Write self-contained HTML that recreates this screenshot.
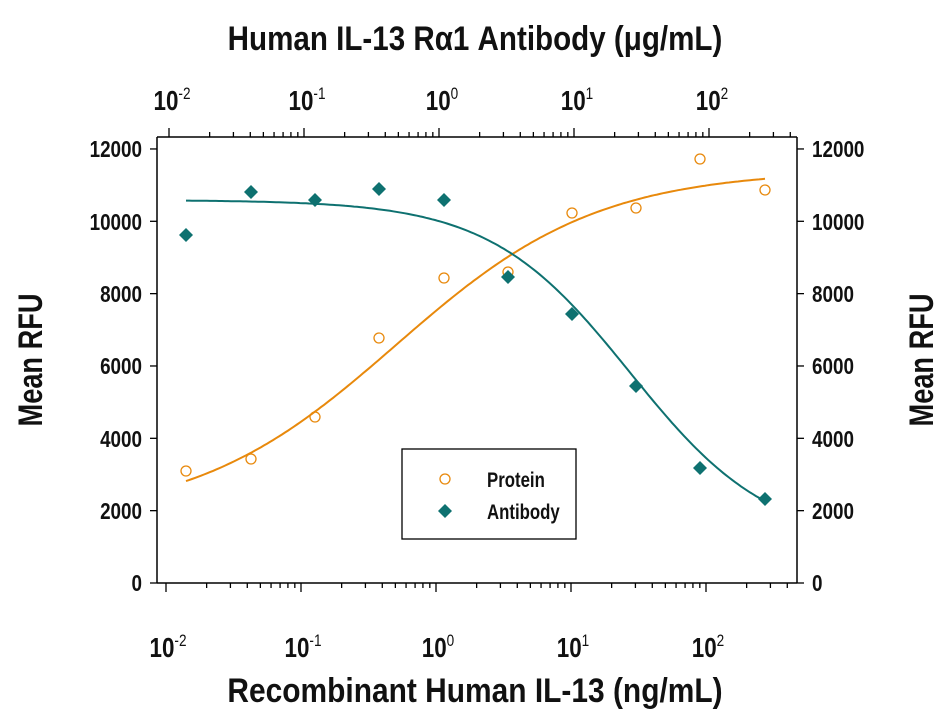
<!DOCTYPE html>
<html><head><meta charset="utf-8"><style>
html,body{margin:0;padding:0;background:#fff}
svg text{font-family:"Liberation Sans Narrow","Liberation Sans",sans-serif;font-weight:bold;fill:#111}
</style></head><body>
<svg id="s" width="951" height="717" viewBox="0 0 951 717" xmlns="http://www.w3.org/2000/svg">
<g stroke="#000" stroke-width="1.5" fill="none">
<line x1="157" y1="137" x2="797" y2="137"/>
<line x1="157" y1="583" x2="797" y2="583"/>
<line x1="157" y1="137" x2="157" y2="583"/>
<line x1="797" y1="137" x2="797" y2="583"/>
</g>
<g id="ticks" stroke="#000" stroke-width="1.3"></g>
<g font-size="23" text-anchor="end">
<text transform="translate(142 591) scale(0.82 1)">0</text>
<text transform="translate(142 519) scale(0.82 1)">2000</text>
<text transform="translate(142 447) scale(0.82 1)">4000</text>
<text transform="translate(142 374) scale(0.82 1)">6000</text>
<text transform="translate(142 302) scale(0.82 1)">8000</text>
<text transform="translate(142 230) scale(0.82 1)">10000</text>
<text transform="translate(142 157) scale(0.82 1)">12000</text>
</g>
<g font-size="23" text-anchor="start">
<text transform="translate(812 591) scale(0.82 1)">0</text>
<text transform="translate(812 519) scale(0.82 1)">2000</text>
<text transform="translate(812 447) scale(0.82 1)">4000</text>
<text transform="translate(812 374) scale(0.82 1)">6000</text>
<text transform="translate(812 302) scale(0.82 1)">8000</text>
<text transform="translate(812 230) scale(0.82 1)">10000</text>
<text transform="translate(812 157) scale(0.82 1)">12000</text>
</g>
<g id="dec"></g>
<text font-size="34" text-anchor="middle" transform="translate(475 50) scale(0.87 1)">Human IL-13 Rα1 Antibody (μg/mL)</text>
<text font-size="34" text-anchor="middle" transform="translate(475 702) scale(0.88 1)">Recombinant Human IL-13 (ng/mL)</text>
<text font-size="34" text-anchor="middle" transform="translate(42 360) rotate(-90) scale(0.8 1)">Mean RFU</text>
<text font-size="34" text-anchor="middle" transform="translate(933 360) rotate(-90) scale(0.8 1)">Mean RFU</text>
<path id="po" fill="none" stroke="#e8890c" stroke-width="2"/>
<path id="pt" fill="none" stroke="#0e7170" stroke-width="2"/>
<g id="pts"></g>
<rect x="402" y="449" width="174" height="90" fill="#fff" stroke="#000" stroke-width="1.3"/>
<circle cx="445" cy="479" r="5" fill="none" stroke="#e8890c" stroke-width="1.3"/>
<path d="M445 504 L452 511 L445 518 L438 511 Z" fill="#0e7170"/>
<text font-size="21" transform="translate(487 487) scale(0.8 1)">Protein</text>
<text font-size="21" transform="translate(487 519) scale(0.8 1)">Antibody</text>
</svg>
<script>
var NS="http://www.w3.org/2000/svg";
function el(t,a,p){var e=document.createElementNS(NS,t);for(var k in a)e.setAttribute(k,a[k]);p.appendChild(e);return e;}
var T=document.getElementById("ticks"),D=document.getElementById("dec");
function X(l){return 436+135*l;}
for(var d=-3;d<=2;d++){for(var m=1;m<10;m++){var x=X(d+Math.log10(m));if(x<160||x>795)continue;var L=m==1?9:5;
el("line",{x1:x,y1:583,x2:x,y2:583+L},T);var xt=x+3;el("line",{x1:xt,y1:137,x2:xt,y2:137-L},T);}}
for(var v=0;v<=12000;v+=2000){var y=583-v*0.03617;el("line",{x1:150,y1:y,x2:157,y2:y},T);el("line",{x1:797,y1:y,x2:804,y2:y},T);}
var sup=["-2","-1","0","1","2"];
for(var i=0;i<5;i++){var x=X(i-2);
[[x-2,657],[x+2,110]].forEach(function(p){var t=el("text",{"font-size":"28","text-anchor":"middle",transform:"translate("+(p[0]+4)+" "+p[1]+") scale(0.8 1)"},D);
t.innerHTML='10<tspan dy="-11" font-size="17" font-weight="normal">'+sup[i]+'</tspan>';});}
var po="",pt="";
for(var x=186;x<=765;x+=3){var yo=170+350/(1+Math.exp((x-396)/101));var yt=200+345/(1+Math.exp(-(x-630)/70));
po+=(x==186?"M":"L")+x+" "+yo.toFixed(1)+" ";pt+=(x==186?"M":"L")+x+" "+yt.toFixed(1)+" ";}
document.getElementById("po").setAttribute("d",po);document.getElementById("pt").setAttribute("d",pt);
var P=document.getElementById("pts");
[[186,471],[251,459],[315,417],[379,338],[444,278],[508,272],[572,213],[636,208],[700,159],[765,190]].forEach(function(p){el("circle",{cx:p[0],cy:p[1],r:5,fill:"none",stroke:"#e8890c","stroke-width":1.3},P);});
[[186,235],[251,192],[315,200],[379,189],[444,200],[508,277],[572,314],[636,386],[700,468],[765,499]].forEach(function(p){var x=p[0],y=p[1];el("path",{d:"M"+x+" "+(y-7)+"L"+(x+7)+" "+y+"L"+x+" "+(y+7)+"L"+(x-7)+" "+y+"Z",fill:"#0e7170"},P);});
</script>
</body></html>
